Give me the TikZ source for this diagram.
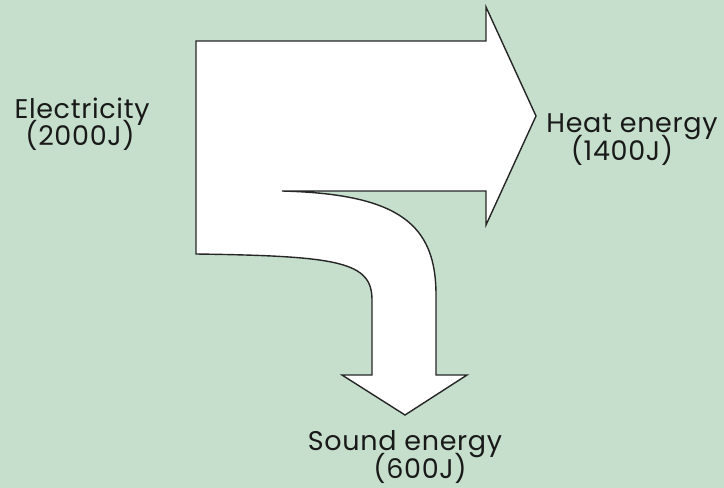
\documentclass[tikz,border=0pt]{standalone}
\usepackage{fontspec}
\setmainfont[LetterSpace=2.5]{Poppins}
\usepackage{xcolor}
\usetikzlibrary{positioning}
\definecolor{bgmint}{RGB}{197,223,204}

\begin{document}
\begin{tikzpicture}[
    x=1pt, y=-1pt,
    flow/.style={draw=black!85, fill=white, line width=1.4pt, line join=miter},
    lbl/.style={anchor=base, inner sep=0pt, text=black!90, font=\fontsize{27}{32}\selectfont},
  ]
    \useasboundingbox[fill=bgmint] (0,0) rectangle (724,488);
    \draw[flow] (196,41) -- (486,41) -- (486,7) -- (536,116) -- (486,225) -- (486,191) -- (282,191)
      .. controls (400,194) and (436,225) .. (436,295) -- (436,375) -- (467,375) -- (405,415)
      -- (342,375) -- (372,375) -- (372,300)
      .. controls (372,262) and (340,256) .. (196,254) -- cycle;
    \node[lbl] (elec) at (82,118) {Electricity};
    \node[lbl] (elecval) at (80,145) {(2000J)};
    \node[lbl] (heat) at (632,132) {Heat energy};
    \node[lbl] (heatval) at (622,160) {(1400J)};
    \node[lbl] (sound) at (405,450) {Sound energy};
    \node[lbl] (soundval) at (420,478) {(600J)};
  \end{tikzpicture}
\end{document}
